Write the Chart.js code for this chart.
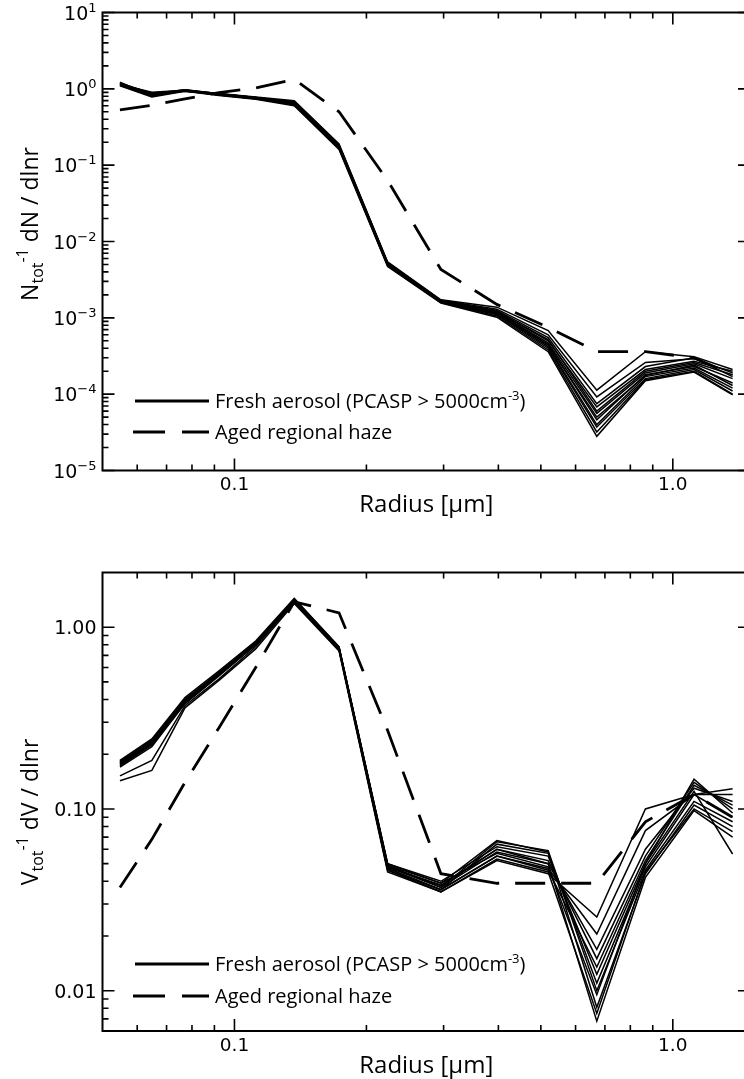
<!DOCTYPE html>
<html><head><meta charset="utf-8">
<script src="https://cdn.jsdelivr.net/npm/chart.js@4.4.1/dist/chart.umd.min.js"></script>
<style>
html,body{margin:0;padding:0;background:#fff;overflow:hidden;width:744px;height:1079px;}
#wrap{position:relative;width:744px;height:1079px;overflow:hidden;background:#fff;}
canvas{position:absolute;left:0;}
#c1{top:0px}
#c2{top:540px}
</style></head><body>
<div id="wrap"><canvas id="c1" width="752" height="540"></canvas><canvas id="c2" width="752" height="539"></canvas></div>
<script>
// ---- data (radius in micrometres; PCASP channel mid-points) ----
const radius = [0.0548,0.0648,0.0771,0.0922,0.1118,0.1369,0.1732,0.2236,0.2958,0.3969,0.5196,0.6708,0.866,1.118,1.369];

// normalised number distributions, fresh aerosol (one row per profile)
const numberFresh = [
  [1.22,0.80,0.96,0.87,0.78,0.70,0.190,0.0054,0.00172,0.00138,0.00068,1.13e-4,3.6e-4,3.1e-4,2.1e-4],
  [1.20,0.82,0.95,0.86,0.77,0.68,0.185,0.0053,0.00170,0.00130,0.00060,9.2e-5,2.6e-4,2.9e-4,1.9e-4],
  [1.18,0.84,0.97,0.86,0.77,0.67,0.180,0.0052,0.00168,0.00125,0.00055,7.5e-5,2.3e-4,3.0e-4,1.7e-4],
  [1.17,0.86,0.95,0.85,0.76,0.66,0.180,0.0051,0.00166,0.00122,0.00050,6.8e-5,2.1e-4,2.7e-4,2.0e-4],
  [1.15,0.88,0.94,0.85,0.76,0.65,0.175,0.0050,0.00165,0.00118,0.00047,5.6e-5,1.9e-4,2.5e-4,1.6e-4],
  [1.14,0.90,0.96,0.84,0.75,0.64,0.175,0.0050,0.00163,0.00115,0.00045,4.6e-5,1.8e-4,2.3e-4,1.4e-4],
  [1.13,0.86,0.93,0.84,0.75,0.63,0.170,0.0049,0.00162,0.00112,0.00042,4.0e-5,1.7e-4,2.2e-4,1.2e-4],
  [1.12,0.84,0.95,0.83,0.74,0.62,0.170,0.0048,0.00160,0.00110,0.00040,3.7e-5,1.6e-4,2.1e-4,1.1e-4],
  [1.11,0.80,0.94,0.83,0.74,0.62,0.165,0.0048,0.00158,0.00106,0.00038,3.2e-5,1.55e-4,2.0e-4,1.0e-4],
  [1.10,0.78,0.93,0.82,0.73,0.60,0.160,0.0047,0.00156,0.00102,0.00036,2.8e-5,1.5e-4,1.95e-4,0.98e-4],
  [1.16,0.83,0.96,0.85,0.76,0.66,0.180,0.0052,0.00167,0.00120,0.00052,6.0e-5,2.0e-4,2.6e-4,1.8e-4],
  [1.19,0.87,0.97,0.86,0.77,0.67,0.180,0.0051,0.00164,0.00116,0.00044,5.0e-5,1.75e-4,2.4e-4,1.3e-4]
];
// normalised number distribution, aged regional haze
const numberAged = [0.53,0.61,0.74,0.89,1.03,1.33,0.50,0.063,0.0043,0.0015,0.00075,0.00036,0.00036,0.00030,0.00018];

// normalised volume distributions, fresh aerosol
const volumeFresh = [
  [0.143,0.163,0.36,0.51,0.76,1.35,0.74,0.045,0.035,0.052,0.044,0.0254,0.100,0.120,0.129],
  [0.152,0.185,0.37,0.52,0.78,1.37,0.75,0.046,0.036,0.055,0.047,0.0205,0.076,0.120,0.120],
  [0.178,0.228,0.39,0.55,0.80,1.40,0.76,0.048,0.037,0.058,0.050,0.0169,0.060,0.130,0.110],
  [0.182,0.240,0.40,0.56,0.82,1.42,0.77,0.048,0.038,0.060,0.052,0.0150,0.055,0.140,0.100],
  [0.185,0.243,0.41,0.575,0.84,1.44,0.78,0.050,0.040,0.062,0.055,0.0123,0.050,0.146,0.095],
  [0.170,0.220,0.38,0.54,0.80,1.39,0.76,0.047,0.036,0.064,0.057,0.0110,0.048,0.120,0.090],
  [0.175,0.225,0.39,0.55,0.81,1.41,0.77,0.049,0.037,0.066,0.059,0.0100,0.046,0.110,0.085],
  [0.180,0.235,0.40,0.56,0.82,1.43,0.78,0.049,0.039,0.067,0.058,0.0081,0.044,0.105,0.080],
  [0.176,0.230,0.395,0.555,0.81,1.42,0.77,0.048,0.038,0.060,0.050,0.0068,0.042,0.098,0.070],
  [0.183,0.238,0.40,0.565,0.83,1.42,0.775,0.050,0.039,0.057,0.048,0.0095,0.050,0.125,0.0565],
  [0.179,0.232,0.385,0.55,0.80,1.40,0.76,0.047,0.036,0.055,0.046,0.0135,0.052,0.135,0.105],
  [0.172,0.226,0.38,0.545,0.80,1.38,0.755,0.046,0.035,0.053,0.045,0.0075,0.045,0.100,0.075]
];
// normalised volume distribution, aged regional haze
const volumeAged = [0.037,0.068,0.14,0.28,0.60,1.38,1.20,0.27,0.044,0.039,0.039,0.039,0.085,0.120,0.090];

// axis ticks
const xMajorTicks = [0.1, 1.0];
const xTickLabels = ['0.1', '1.0'];
const xMinorTicks = [0.06,0.07,0.08,0.09,0.2,0.3,0.4,0.5,0.6,0.7,0.8,0.9];
const nMajorTicks = [1e-5,1e-4,1e-3,1e-2,1e-1,1,10];
const nTickExponents = ['\u22125','\u22124','\u22123','\u22122','\u22121','0','1'];
const nMinorTicks = [2e-5,3e-5,4e-5,5e-5,6e-5,7e-5,8e-5,9e-5,2e-4,3e-4,4e-4,5e-4,6e-4,7e-4,8e-4,9e-4,
  2e-3,3e-3,4e-3,5e-3,6e-3,7e-3,8e-3,9e-3,0.02,0.03,0.04,0.05,0.06,0.07,0.08,0.09,
  0.2,0.3,0.4,0.5,0.6,0.7,0.8,0.9,2,3,4,5,6,7,8,9];
const vMajorTicks = [0.01, 0.1, 1];
const vTickLabels = ['0.01', '0.10', '1.00'];
const vMinorTicks = [0.007,0.008,0.009,0.02,0.03,0.04,0.05,0.06,0.07,0.08,0.09,0.2,0.3,0.4,0.5,0.6,0.7,0.8,0.9];

const legendLabels = ['Fresh aerosol (PCASP > 5000cm', 'Aged regional haze'];

// ---- drawing helpers ----
const TITLE_FONT = '"Open Sans", "DejaVu Sans", sans-serif';
const TICK_FONT = '"DejaVu Sans", sans-serif';

function drawRich(ctx, parts, x, y) {
  let cx = x;
  for (const p of parts) {
    ctx.font = p.size + 'px ' + p.font;
    ctx.fillText(p.t, cx, y + (p.dy || 0));
    cx += ctx.measureText(p.t).width;
  }
}
function richWidth(ctx, parts) {
  let w = 0;
  for (const p of parts) { ctx.font = p.size + 'px ' + p.font; w += ctx.measureText(p.t).width; }
  return w;
}

function makeFrame(opts) {
  return {
    id: 'frame',
    afterDatasetsDraw(chart) {
      const ctx = chart.ctx, a = chart.chartArea, xs = chart.scales.x, ys = chart.scales.y;
      ctx.save();
      ctx.fillStyle = '#000'; ctx.strokeStyle = '#000';
      // frame
      ctx.lineWidth = 2;
      ctx.strokeRect(a.left, a.top, a.right - a.left, a.bottom - a.top);
      ctx.lineWidth = 1.6;
      ctx.beginPath();
      const tick = (v, len) => {
        const px = xs.getPixelForValue(v);
        ctx.moveTo(px, a.bottom); ctx.lineTo(px, a.bottom - len);
        ctx.moveTo(px, a.top); ctx.lineTo(px, a.top + len);
      };
      xMajorTicks.forEach(v => tick(v, 12));
      xMinorTicks.forEach(v => tick(v, 6));
      const ytick = (v, lenL, lenR) => {
        const py = ys.getPixelForValue(v);
        ctx.moveTo(a.left, py); ctx.lineTo(a.left + lenL, py);
        ctx.moveTo(a.right, py); ctx.lineTo(a.right - lenR, py);
      };
      opts.yMajor.forEach(v => ytick(v, 12, 12));
      opts.yMinor.forEach(v => ytick(v, 6, 6));
      ctx.stroke();

      // x tick labels
      ctx.font = '18.5px ' + TICK_FONT;
      ctx.textAlign = 'center'; ctx.textBaseline = 'middle';
      xMajorTicks.forEach((v, i) => ctx.fillText(xTickLabels[i], xs.getPixelForValue(v), a.bottom + 15));
      // y tick labels
      ctx.textAlign = 'left'; ctx.textBaseline = 'alphabetic';
      opts.yMajor.forEach((v, i) => {
        const py = ys.getPixelForValue(v);
        const parts = opts.yLabel(i);
        const w = richWidth(ctx, parts);
        drawRich(ctx, parts, a.left - 6 - w, py + 7);
      });
      // x title
      ctx.font = '24px ' + TITLE_FONT;
      ctx.textAlign = 'center'; ctx.textBaseline = 'middle';
      ctx.fillText('Radius [\u03bcm]', (a.left + a.right) / 2, a.bottom + 35);
      // y title (rotated)
      ctx.save();
      ctx.translate(opts.yTitleX, opts.yTitleY);
      ctx.rotate(-Math.PI / 2);
      ctx.textAlign = 'left'; ctx.textBaseline = 'alphabetic';
      const tp = opts.yTitle;
      const tw = richWidth(ctx, tp);
      drawRich(ctx, tp, -tw / 2, 8);
      ctx.restore();
      // legend
      const lx0 = 135, lx1 = 209;
      ctx.lineWidth = 3.2;
      ctx.beginPath(); ctx.moveTo(lx0, opts.legY[0]); ctx.lineTo(lx1, opts.legY[0]); ctx.stroke();
      ctx.setLineDash([32, 17]);
      ctx.beginPath(); ctx.moveTo(lx0 - 2, opts.legY[1]); ctx.lineTo(lx1, opts.legY[1]); ctx.stroke();
      ctx.setLineDash([]);
      ctx.textAlign = 'left'; ctx.textBaseline = 'alphabetic';
      drawRich(ctx, [
        {t: legendLabels[0], size: 20, font: TITLE_FONT},
        {t: '-3', size: 13, font: TITLE_FONT, dy: -8},
        {t: ')', size: 20, font: TITLE_FONT}
      ], 215, opts.legY[0] + 7);
      drawRich(ctx, [{t: legendLabels[1], size: 20, font: TITLE_FONT}], 215, opts.legY[1] + 7);
      ctx.restore();
    }
  };
}

function buildDatasets(fresh, aged) {
  const ds = fresh.map(row => ({
    data: row.map((v, j) => ({x: radius[j], y: v})),
    borderColor: '#000', borderWidth: 1.5, pointRadius: 0, tension: 0, fill: false
  }));
  ds.push({
    data: aged.map((v, j) => ({x: radius[j], y: v})),
    borderColor: '#000', borderWidth: 2.8, borderDash: [30, 16], pointRadius: 0, tension: 0, fill: false
  });
  return ds;
}

function makeChart(id, fresh, aged, yMin, yMax, pad, frameOpts) {
  return new Chart(document.getElementById(id), {
    type: 'line',
    data: { datasets: buildDatasets(fresh, aged) },
    options: {
      responsive: false, animation: false, devicePixelRatio: 1,
      layout: { padding: pad },
      plugins: { legend: { display: false }, tooltip: { enabled: false } },
      scales: {
        x: { type: 'logarithmic', min: 0.05, max: 1.5, display: false },
        y: { type: 'logarithmic', min: yMin, max: yMax, display: false }
      }
    },
    plugins: [makeFrame(frameOpts)]
  });
}

makeChart('c1', numberFresh, numberAged, 1e-5, 10,
  { left: 102.5, right: 2, top: 12.5, bottom: 69.5 },
  {
    yMajor: nMajorTicks, yMinor: nMinorTicks,
    yLabel: i => [
      {t: '10', size: 19, font: TICK_FONT},
      {t: nTickExponents[i], size: 13, font: TICK_FONT, dy: -8}
    ],
    yTitleX: 30, yTitleY: 224,
    yTitle: [
      {t: 'N', size: 23, font: TITLE_FONT},
      {t: 'tot', size: 16, font: TITLE_FONT, dy: 5},
      {t: '-1', size: 16, font: TITLE_FONT, dy: -10},
      {t: ' dN / dlnr', size: 23, font: TITLE_FONT}
    ],
    legY: [401, 432]
  });

makeChart('c2', volumeFresh, volumeAged, 0.006, 2,
  { left: 102.5, right: 2, top: 32.5, bottom: 48 },
  {
    yMajor: vMajorTicks, yMinor: vMinorTicks,
    yLabel: i => [{t: vTickLabels[i], size: 19, font: TICK_FONT}],
    yTitleX: 30, yTitleY: 272,
    yTitle: [
      {t: 'V', size: 23, font: TITLE_FONT},
      {t: 'tot', size: 16, font: TITLE_FONT, dy: 5},
      {t: '-1', size: 16, font: TITLE_FONT, dy: -10},
      {t: ' dV / dlnr', size: 23, font: TITLE_FONT}
    ],
    legY: [424, 456]
  });
</script>
</body></html>
